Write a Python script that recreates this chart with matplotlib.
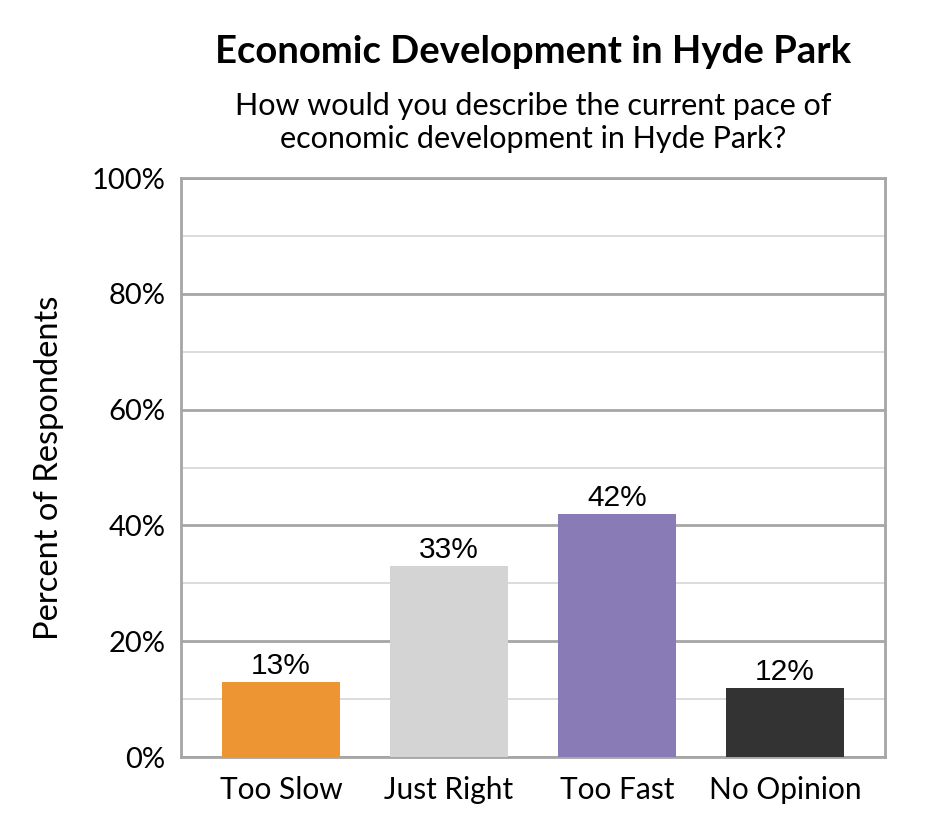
import matplotlib.pyplot as plt
from matplotlib.ticker import MultipleLocator, FuncFormatter

categories = ["Too Slow", "Just Right", "Too Fast", "No Opinion"]
values = [13, 33, 42, 12]
colors = ["#ED9433", "#D4D4D4", "#897BB6", "#333333"]

title = "Economic Development in Hyde Park"
subtitle = "How would you describe the current pace of\neconomic development in Hyde Park?"

main_font = ["Lato", "DejaVu Sans"]
label_font = ["Liberation Sans", "DejaVu Sans"]

fig = plt.figure(figsize=(9.45, 8.4), dpi=100)
ax = fig.add_axes([0.1915, 0.0988, 0.745, 0.6892])

x = range(len(categories))
bars = ax.bar(x, values, width=0.70, color=colors, zorder=3)

for b, v in zip(bars, values):
    ax.text(b.get_x() + b.get_width() / 2, v + 0.3, f"{v}%",
            ha="center", va="bottom", fontsize=21.5, family=label_font, zorder=4)

ax.set_xlim(-0.595, 3.595)
ax.set_ylim(0, 100)
ax.set_xticks(list(x))
ax.set_xticklabels(categories, fontsize=21.5, family=main_font)
ax.yaxis.set_major_locator(MultipleLocator(20))
ax.yaxis.set_minor_locator(MultipleLocator(10))
ax.yaxis.set_major_formatter(FuncFormatter(lambda v, p: f"{int(v)}%"))
for lab in ax.get_yticklabels():
    lab.set_fontsize(21)
    lab.set_family(main_font)

ax.tick_params(axis="both", which="both", length=0)
ax.tick_params(axis="x", pad=14)
ax.tick_params(axis="y", pad=11)

ax.grid(axis="y", which="major", color="#A6A6A6", linewidth=2, zorder=0)
ax.grid(axis="y", which="minor", color="#D9D9D9", linewidth=1.3, zorder=0)
for s in ax.spines.values():
    s.set_color("#A6A6A6")
    s.set_linewidth(2)

ax.set_ylabel("Percent of Respondents", fontsize=23.5, family=main_font, labelpad=20)

fig.text(0.564, 0.938, title, ha="center", va="center", fontsize=27.5,
         fontweight="bold", family=main_font)
fig.text(0.564, 0.854, subtitle, ha="center", va="center", fontsize=22,
         family=main_font, linespacing=1.22)

fig.savefig("out.png", dpi=100)
